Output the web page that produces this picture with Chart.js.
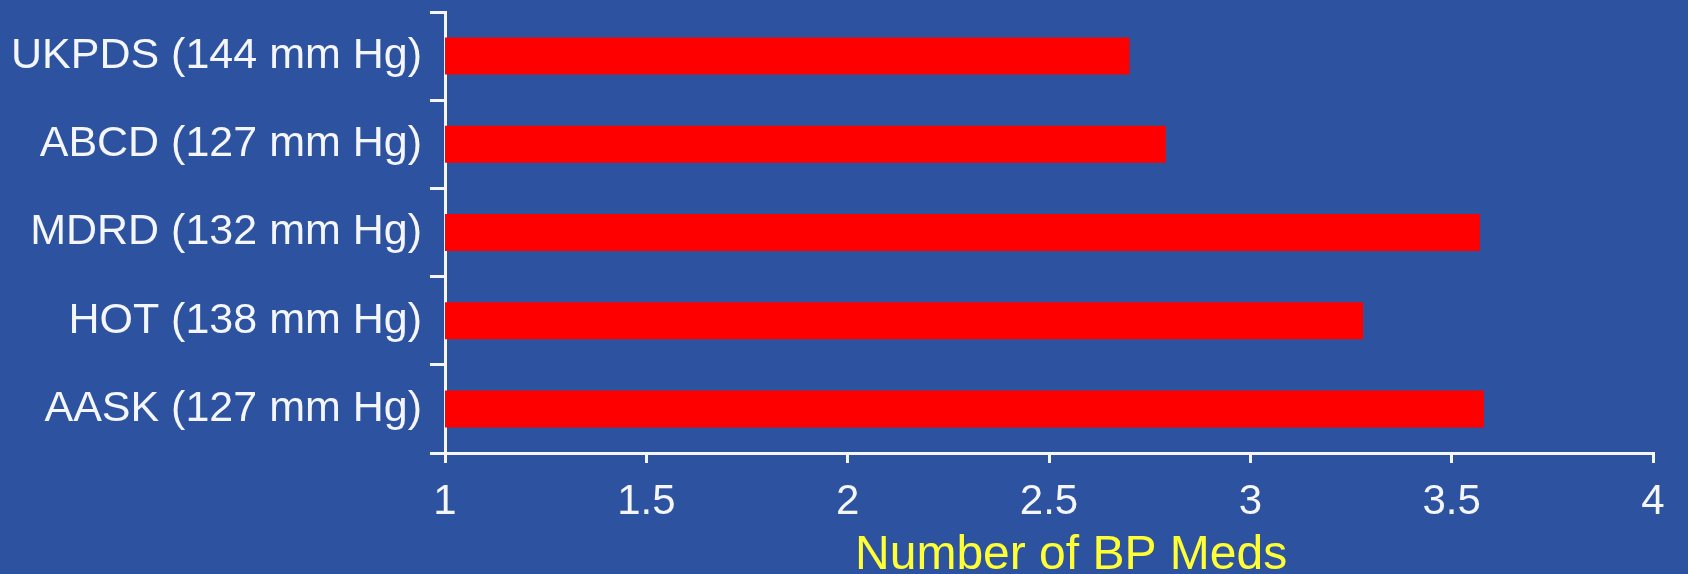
<!DOCTYPE html>
<html>
<head>
<meta charset="utf-8">
<title>Number of BP Meds</title>
<script src="https://cdn.jsdelivr.net/npm/chart.js@4"></script>
<style>
    html, body { margin: 0; padding: 0; background: #2D53A0; overflow: hidden; }
    canvas { display: block; }
</style>
</head>
<body>
<canvas id="bpMedsChart" width="1688" height="574"></canvas>
<script>
// Data
const trials = ['UKPDS (144 mm Hg)', 'ABCD (127 mm Hg)', 'MDRD (132 mm Hg)', 'HOT (138 mm Hg)', 'AASK (127 mm Hg)'];
const bpMeds = [2.7, 2.79, 3.57, 3.28, 3.58];
const xTickValues = [1, 1.5, 2, 2.5, 3, 3.5, 4];
const xTickLabels = ['1', '1.5', '2', '2.5', '3', '3.5', '4'];
const xTitle = 'Number of BP Meds';

document.addEventListener('DOMContentLoaded', function() {
    const chartEl = document.getElementById('bpMedsChart');
    const white = '#F4F6FB';
    const fontFamily = 'Liberation Sans, Arial, sans-serif';

    // The slide's axis title sits a little right of the axis centre,
    // so it is drawn here under the value it is centred on
    const xTitlePlugin = {
        id: 'xTitlePlugin',
        afterDraw: function(chart) {
            const xScale = chart.scales.x;
            const ctx = chart.ctx;
            ctx.save();
            ctx.font = '48px ' + fontFamily;
            ctx.fillStyle = '#FFFF33';
            ctx.textAlign = 'center';
            ctx.textBaseline = 'middle';
            ctx.fillText(xTitle, xScale.getPixelForValue(2.555), xScale.bottom - 18);
            ctx.restore();
        }
    };

    new Chart(chartEl, {
        type: 'bar',
        data: {
            labels: trials,
            datasets: [{
                data: bpMeds,
                backgroundColor: '#FF0000',
                borderWidth: 0,
                barPercentage: 0.42,
                categoryPercentage: 1.0
            }]
        },
        options: {
            indexAxis: 'y',
            responsive: false,
            devicePixelRatio: 1,
            animation: false,
            layout: {
                padding: { top: 12, right: 35, left: 0, bottom: 0 }
            },
            plugins: {
                legend: { display: false },
                tooltip: { enabled: false }
            },
            scales: {
                x: {
                    min: 1,
                    max: 4,
                    afterBuildTicks: function(scale) {
                        scale.ticks = xTickValues.map(v => ({ value: v }));
                    },
                    afterFit: function(scale) {
                        scale.height = 121;
                        scale.paddingLeft = 0;
                        scale.paddingRight = 0;
                    },
                    border: { display: true, color: white, width: 3 },
                    grid: {
                        drawOnChartArea: false,
                        drawTicks: true,
                        tickLength: 10,
                        color: white,
                        lineWidth: 3
                    },
                    ticks: {
                        color: white,
                        padding: 14,
                        maxRotation: 0,
                        font: { family: fontFamily, size: 42 },
                        callback: function(value, index) {
                            return xTickLabels[index];
                        }
                    },
                    title: { display: false }
                },
                y: {
                    afterFit: function(scale) {
                        scale.width = 445;
                        scale.paddingTop = 0;
                        scale.paddingBottom = 0;
                    },
                    border: { display: true, color: white, width: 3 },
                    grid: {
                        offset: true,
                        drawOnChartArea: false,
                        drawTicks: true,
                        tickLength: 15,
                        color: white,
                        lineWidth: 3
                    },
                    ticks: {
                        color: white,
                        padding: 8,
                        font: { family: fontFamily, size: 43 }
                    }
                }
            }
        },
        plugins: [xTitlePlugin]
    });
});
</script>
</body>
</html>
